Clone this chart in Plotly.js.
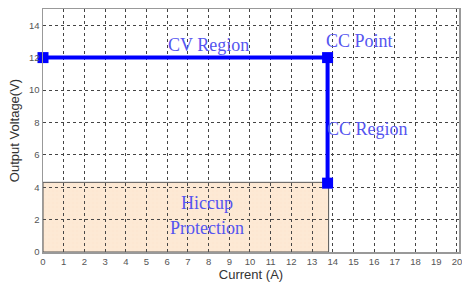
<!DOCTYPE html>
<html>
<head>
<meta charset="utf-8">
<script src="https://cdn.plot.ly/plotly-3.0.1.min.js"></script>
<style>html,body{margin:0;padding:0;background:#fff;}#chart{width:462px;height:289px;}</style>
</head>
<body>
<div id="chart"></div>
<script>
// Operating curve (current A, voltage V)
const currentPts = [0, 13.75, 13.75];
const voltagePts = [12, 12, 4.25];
// Hiccup protection region extent
const hiccupCurrent = [13.8];
const hiccupVoltage = [4.3];
// Axis ticks
const xTicks = [0,1,2,3,4,5,6,7,8,9,10,11,12,13,14,15,16,17,18,19,20];
const yTicks = [0,2,4,6,8,10,12,14];
// Region labels
const labelText = ["CV Region", "CC Point", "CC Region", "Hiccup", "Protection"];
const labelX = [8.0, 15.3, 15.7, 7.9, 7.9];
const labelY = [12.8, 13.0, 7.6, 3.05, 1.5];

const traces = [
  {
    type: 'bar',
    x: [hiccupCurrent[0] / 2],
    y: hiccupVoltage,
    width: hiccupCurrent,
    base: 0,
    marker: {
      color: 'rgba(0,0,0,0)',
      line: {color: '#555', width: 1},
      pattern: {shape: '+', size: 4, solidity: 0.12, fgcolor: 'rgba(240,190,150,0.45)', bgcolor: 'rgba(0,0,0,0)', fillmode: 'overlay'}
    },
    hoverinfo: 'skip',
    showlegend: false
  },
  {
    type: 'scatter',
    mode: 'lines+markers',
    x: currentPts,
    y: voltagePts,
    line: {color: '#0000ff', width: 4},
    marker: {symbol: 'square', size: 11, color: '#0000ff'},
    cliponaxis: false,
    showlegend: false
  }
];

const annotations = labelText.map((t, i) => ({
  x: labelX[i], y: labelY[i], xref: 'x', yref: 'y',
  text: t, showarrow: false,
  font: {family: 'Liberation Serif, Times New Roman, serif', size: 18, color: '#5555f0'}
}));

const shapes = [{
  type: 'rect', xref: 'x', yref: 'y', layer: 'below',
  x0: 0, x1: hiccupCurrent[0], y0: 0, y1: hiccupVoltage[0],
  fillcolor: '#fde9d5', line: {width: 0}
}];

const axisCommon = {
  showgrid: true,
  gridcolor: '#444',
  gridwidth: 1,
  griddash: '3px,3px',
  zeroline: false,
  showline: true,
  mirror: true,
  linecolor: '#999',
  linewidth: 1.5,
  ticks: '',
  ticklabeloverflow: 'allow',
  tickfont: {family: 'Liberation Sans, Arial, sans-serif', size: 9.5, color: '#555'},
  fixedrange: true
};

const layout = {
  width: 462, height: 289,
  margin: {l: 43, r: 3, t: 9, b: 37},
  paper_bgcolor: '#fff',
  plot_bgcolor: '#fff',
  bargap: 0,
  xaxis: Object.assign({}, axisCommon, {
    range: [0, 20.1],
    tickmode: 'array', tickvals: xTicks, ticktext: xTicks.map(String),
    title: {text: 'Current (A)', font: {family: 'Liberation Sans, Arial, sans-serif', size: 13, color: '#333'}, standoff: 3}
  }),
  yaxis: Object.assign({}, axisCommon, {
    range: [0, 15],
    tickmode: 'array', tickvals: yTicks, ticktext: yTicks.map(String),
    title: {text: 'Output Voltage(V)', font: {family: 'Liberation Sans, Arial, sans-serif', size: 13, color: '#333'}, standoff: 6}
  }),
  shapes: shapes,
  annotations: annotations
};

Plotly.newPlot('chart', traces, layout, {displayModeBar: false, staticPlot: true});
</script>
</body>
</html>
